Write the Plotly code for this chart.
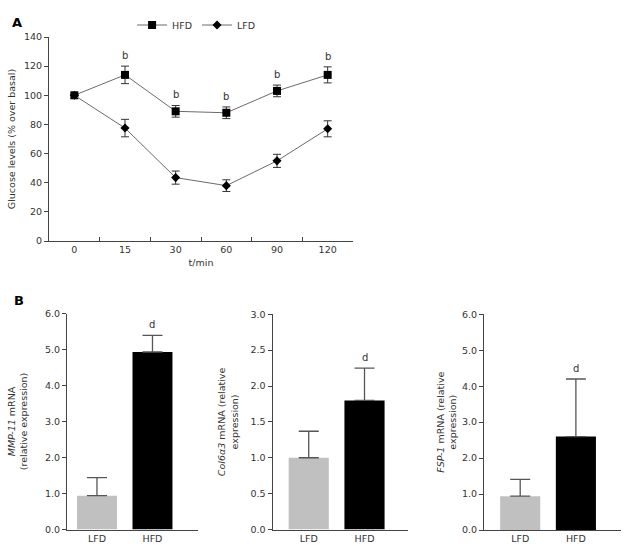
import plotly.graph_objects as go

# ---- Panel A data ----
time_labels = ["0", "15", "30", "60", "90", "120"]
hfd_glucose = [100, 114, 89, 88, 103, 114]
hfd_err = [0, 6, 4, 4, 4, 5.5]
lfd_glucose = [100, 77.5, 43.5, 38, 55, 77]
lfd_err = [0, 6, 4.5, 4, 4.5, 5.5]
sig_a = ["", "b", "b", "b", "b", "b"]

# ---- Panel B data ----
groups = ["LFD", "HFD"]
mmp11 = [0.94, 4.93]
mmp11_err = [0.5, 0.46]
col6a3 = [1.0, 1.8]
col6a3_err = [0.37, 0.45]
fsp1 = [0.94, 2.6]
fsp1_err = [0.47, 1.6]
bar_colors = ["#c0c0c0", "#000000"]

FONT = "DejaVu Sans"
AX = "#444444"
W, H = 629, 548
fig = go.Figure()

# Panel A lines
fig.add_trace(go.Scatter(
    x=time_labels, y=hfd_glucose, name="HFD", mode="lines+markers",
    line=dict(color="#6b6b6b", width=1),
    marker=dict(symbol="square", size=8, color="black"),
    error_y=dict(type="data", array=hfd_err, color="#333333", thickness=1, width=4),
    xaxis="x", yaxis="y"))
fig.add_trace(go.Scatter(
    x=time_labels, y=lfd_glucose, name="LFD", mode="lines+markers",
    line=dict(color="#6b6b6b", width=1),
    marker=dict(symbol="diamond", size=7, color="black"),
    error_y=dict(type="data", array=lfd_err, color="#333333", thickness=1, width=4),
    xaxis="x", yaxis="y"))

annotations = []
for i, (v, e, s) in enumerate(zip(hfd_glucose, hfd_err, sig_a)):
    if s:
        annotations.append(dict(x=i, y=v + e, xref="x", yref="y", text=s,
                                showarrow=False, yanchor="bottom", yshift=3,
                                font=dict(family=FONT, size=10, color="#333")))

# Panel B bars
panels = [
    (mmp11, mmp11_err, "x2", "y2"),
    (col6a3, col6a3_err, "x3", "y3"),
    (fsp1, fsp1_err, "x4", "y4"),
]
for vals, errs, xa, ya in panels:
    fig.add_trace(go.Bar(
        x=[0, 1], y=vals, width=0.72, marker=dict(color=bar_colors, line=dict(width=0)),
        error_y=dict(type="data", array=errs, arrayminus=[0, 0], symmetric=False,
                     color="#555555", thickness=1.3, width=10),
        showlegend=False, xaxis=xa, yaxis=ya))
    annotations.append(dict(x=1, y=vals[1] + errs[1], xref=xa, yref=ya, text="d",
                            showarrow=False, yanchor="bottom", yshift=3,
                            font=dict(family=FONT, size=10, color="#333")))

annotations += [
    dict(x=10 / W, y=1 - 13 / H, xref="paper", yref="paper", text="<b>A</b>", showarrow=False,
         font=dict(family=FONT, size=13, color="black")),
    dict(x=12 / W, y=1 - 300 / H, xref="paper", yref="paper", text="<b>B</b>", showarrow=False,
         font=dict(family=FONT, size=13, color="black")),
]

tickfont = dict(family=FONT, size=9.5, color="#333")
titlefont = dict(family=FONT, size=9.5, color="#333")

def yax(domain, rng, dtick, fmt, title, standoff, anchor):
    return dict(domain=domain, range=rng, dtick=dtick, tickformat=fmt, anchor=anchor,
                showgrid=False, zeroline=False, showline=True, linecolor=AX, linewidth=1,
                ticks="outside", ticklen=4, tickcolor=AX, tickfont=tickfont,
                title=dict(text=title, font=titlefont, standoff=standoff), automargin=False)

def xbar(domain, rng, anchor):
    return dict(domain=domain, range=rng, anchor=anchor, tickmode="array", tickvals=[0, 1],
                ticktext=groups, showgrid=False, zeroline=False, showline=True,
                linecolor=AX, linewidth=1, ticks="", tickfont=tickfont, automargin=False)

fig.update_layout(
    width=W, height=H, margin=dict(l=0, r=0, t=0, b=0),
    paper_bgcolor="white", plot_bgcolor="white",
    font=dict(family=FONT, size=9.5, color="#333"),
    showlegend=True,
    legend=dict(orientation="h", x=0.21, y=1 - 25 / H, xanchor="left", yanchor="middle",
                font=dict(family=FONT, size=9.5, color="#333"), bgcolor="rgba(0,0,0,0)",
                itemwidth=30, tracegroupgap=0),
    xaxis=dict(domain=[49 / W, 353 / W], type="category", range=[-0.5, 5.5], anchor="y",
               tickson="boundaries", ticks="inside", ticklen=4, tickcolor=AX,
               showline=True, linecolor=AX, linewidth=1, showgrid=False, zeroline=False,
               tickfont=tickfont, title=dict(text="t/min", font=titlefont, standoff=4),
               automargin=False),
    yaxis=yax([1 - 241 / H, 1 - 37 / H], [0, 140], 20, "d", "Glucose levels (% over basal)", 6, "x"),
    xaxis2=xbar([67 / W, 198 / W], [-0.54, 1.82], "y2"),
    yaxis2=yax([1 - 529.5 / H, 1 - 313.5 / H], [0, 6], 1, ".1f",
               "<i>MMP-11</i> mRNA<br>(relative expression)", 15, "x2"),
    xaxis3=xbar([272.5 / W, 408 / W], [-0.65, 1.78], "y3"),
    yaxis3=yax([1 - 529.5 / H, 1 - 314.3 / H], [0, 3], 0.5, ".1f",
               "<i>Col6α3</i> mRNA (relative<br>expression)", 10, "x3"),
    xaxis4=xbar([484 / W, 621 / W], [-0.65, 1.81], "y4"),
    yaxis4=yax([1 - 530 / H, 1 - 314.3 / H], [0, 6], 1, ".1f",
               "<i>FSP-1</i> mRNA (relative<br>expression)", 3, "x4"),
    annotations=annotations,
)

fig.write_html("out.html", config={"displayModeBar": False},
               post_script="document.body.style.margin='0';")
